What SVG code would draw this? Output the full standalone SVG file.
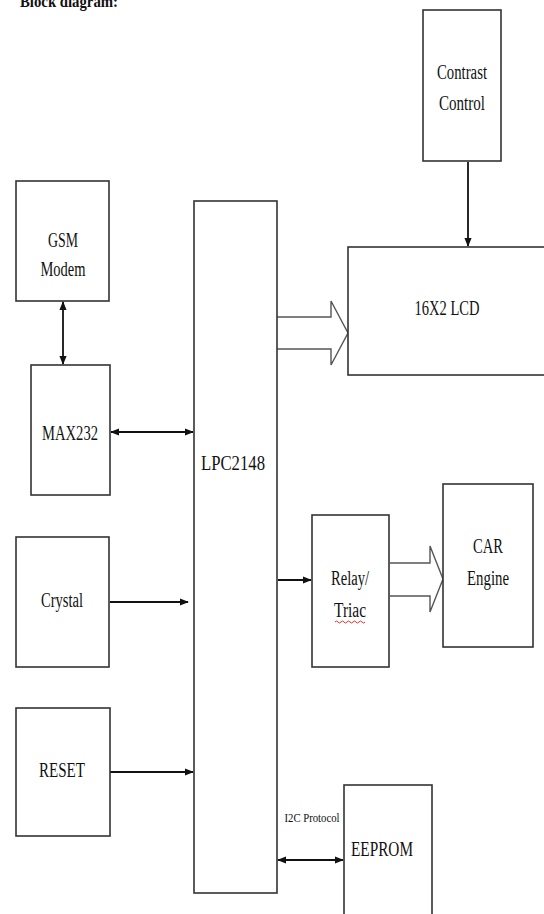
<svg xmlns="http://www.w3.org/2000/svg" width="544" height="914" viewBox="0 0 544 914">
<style>
.box{fill:#fff;stroke:#333;stroke-width:1.6}
.t{font-family:'Liberation Serif','DejaVu Serif',serif;font-size:20px;fill:#111;text-anchor:middle}
.ln{stroke:#111;stroke-width:1.8;fill:none}
.hol{fill:#fff;stroke:#555;stroke-width:1.4}
</style>
<defs>
<marker id="ah2" viewBox="0 0 10 10" refX="9" refY="5" markerWidth="9" markerHeight="9" orient="auto-start-reverse" markerUnits="userSpaceOnUse">
<path d="M0,1 L10,5 L0,9 z" fill="#111"/>
</marker>
</defs>
<rect width="544" height="914" fill="#fff"/>
<text x="20" y="7" font-family="'Liberation Serif','DejaVu Serif',serif" font-weight="bold" font-size="17" fill="#111" textLength="98" lengthAdjust="spacingAndGlyphs">Block diagram:</text>

<g id="connectors">
<line class="ln" x1="468" y1="162" x2="468" y2="246" marker-end="url(#ah2)"/>
<line class="ln" x1="63" y1="302" x2="63" y2="364" marker-start="url(#ah2)" marker-end="url(#ah2)"/>
<line class="ln" x1="111" y1="432" x2="193" y2="432" marker-start="url(#ah2)" marker-end="url(#ah2)"/>
<line class="ln" x1="110" y1="602" x2="188" y2="602" marker-end="url(#ah2)"/>
<line class="ln" x1="110" y1="772" x2="193" y2="772" marker-end="url(#ah2)"/>
<line class="ln" x1="278" y1="580" x2="311" y2="580" marker-end="url(#ah2)"/>
<line class="ln" x1="278" y1="860" x2="343" y2="860" marker-start="url(#ah2)" marker-end="url(#ah2)"/>
<path class="hol" d="M277,317 H331 V301 L348,333 L331,365 V349 H277"/>
<path class="hol" d="M390,563 H430 V546 L443,579 L430,612 V596 H390"/>
</g>

<g id="contrast">
<rect class="box" x="423" y="10" width="78" height="151"/>
<text class="t" x="462" y="79" textLength="50" lengthAdjust="spacingAndGlyphs">Contrast</text>
<text class="t" x="462" y="110" textLength="46" lengthAdjust="spacingAndGlyphs">Control</text>
</g>

<g id="lcd">
<rect class="box" x="348" y="247" width="200" height="128"/>
<text class="t" x="447" y="315" textLength="65" lengthAdjust="spacingAndGlyphs">16X2 LCD</text>
</g>

<g id="lpc">
<rect class="box" x="194" y="201" width="83" height="692"/>
<text class="t" x="233" y="470" textLength="64" lengthAdjust="spacingAndGlyphs">LPC2148</text>
</g>

<g id="gsm">
<rect class="box" x="16" y="181" width="93" height="120"/>
<text class="t" x="63" y="247" textLength="30" lengthAdjust="spacingAndGlyphs">GSM</text>
<text class="t" x="63" y="276" textLength="45" lengthAdjust="spacingAndGlyphs">Modem</text>
</g>

<g id="max232">
<rect class="box" x="31" y="365" width="79" height="130"/>
<text class="t" x="70" y="440" textLength="56" lengthAdjust="spacingAndGlyphs">MAX232</text>
</g>

<g id="crystal">
<rect class="box" x="16" y="537" width="93" height="130"/>
<text class="t" x="62" y="607" textLength="42" lengthAdjust="spacingAndGlyphs">Crystal</text>
</g>

<g id="reset">
<rect class="box" x="16" y="708" width="94" height="128"/>
<text class="t" x="62" y="777" textLength="46" lengthAdjust="spacingAndGlyphs">RESET</text>
</g>

<g id="relay">
<rect class="box" x="312" y="515" width="77" height="152"/>
<text class="t" x="350" y="585" textLength="38" lengthAdjust="spacingAndGlyphs">Relay/</text>
<text class="t" x="350" y="617" textLength="32" lengthAdjust="spacingAndGlyphs">Triac</text>
<path d="M335,622 q1.5,-2 3,0 t3,0 t3,0 t3,0 t3,0 t3,0 t3,0 t3,0 t3,0 t3,0" fill="none" stroke="#e03030" stroke-width="1"/>
</g>

<g id="car">
<rect class="box" x="443" y="484" width="90" height="163"/>
<text class="t" x="488" y="553" textLength="30" lengthAdjust="spacingAndGlyphs">CAR</text>
<text class="t" x="488" y="585" textLength="42" lengthAdjust="spacingAndGlyphs">Engine</text>
</g>

<g id="eeprom">
<rect class="box" x="344" y="785" width="88" height="140"/>
<text class="t" x="382" y="856" textLength="62" lengthAdjust="spacingAndGlyphs">EEPROM</text>
</g>

<g id="i2c-label">
<text x="312" y="822" font-family="'Liberation Serif','DejaVu Serif',serif" font-size="12" fill="#111" text-anchor="middle" textLength="55" lengthAdjust="spacingAndGlyphs">I2C Protocol</text>
</g>
</svg>
